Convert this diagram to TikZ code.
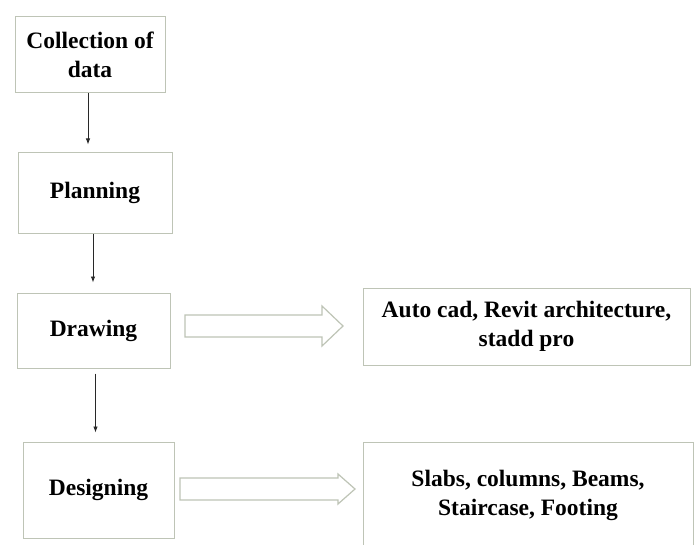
\documentclass[tikz,border=0pt]{standalone}
\usepackage{fontspec}
\setmainfont{Liberation Serif}
\usetikzlibrary{arrows.meta}
\definecolor{boxline}{RGB}{190,196,182}
\definecolor{flowline}{RGB}{40,40,40}
\begin{document}
\begin{tikzpicture}[x=1pt,y=-1pt,
  stepbox/.style={draw=boxline, line width=1pt, align=center, inner sep=0pt,
    font=\fontsize{23.5}{29}\selectfont\bfseries},
  flow/.style={draw=flowline, line width=0.9pt, -{Latex[length=6pt,width=4.5pt]}},
  hollow/.style={draw=boxline, line width=1.2pt, line join=miter}]
  \useasboundingbox (0,0) rectangle (695,545);
  \fill[white] (0,0) rectangle (695,545);
  \node (collect) [stepbox, minimum width=150pt, minimum height=76pt] at (90,55) {Collection of\\data};
  \node (plan) [stepbox, minimum width=154pt, minimum height=80pt] at (95,193) {Planning};
  \node (drawing) [stepbox, minimum width=153pt, minimum height=75pt] at (93.5,330.5) {Drawing};
  \node (design) [stepbox, minimum width=151pt, minimum height=96pt] at (98.5,490) {\raisebox{4pt}{Designing}};
  \node (tools) [stepbox, minimum width=327pt, minimum height=77pt] at (526.5,326.5) {Auto cad, Revit architecture,\\stadd pro};
  \node (parts) [stepbox, minimum width=330pt, minimum height=106pt] at (528,495) {Slabs, columns, Beams,\\Staircase, Footing};
  \draw[flow, shorten >=8pt] ([xshift=-2pt]collect.south) -- ([xshift=-2pt]collect.south |- plan.north);
  \draw[flow, shorten >=10pt] ([xshift=-2pt]plan.south) -- ([xshift=-2pt]plan.south |- drawing.north);
  \draw[flow, shorten <=5pt, shorten >=9pt] ([xshift=2pt]drawing.south) -- ([xshift=2pt]drawing.south |- design.north);
  \coordinate (arrA) at (185,315);
  \coordinate (arrB) at (180,478);
  \draw[hollow] (arrA) -- ++(137,0) -- ++(0,-9) -- ++(21,20) -- ++(-21,20) -- ++(0,-9) -- ++(-137,0) -- cycle;
  \draw[hollow] (arrB) -- ++(158,0) -- ++(0,-4) -- ++(17,15) -- ++(-17,15) -- ++(0,-4) -- ++(-158,0) -- cycle;
\end{tikzpicture}
\end{document}
